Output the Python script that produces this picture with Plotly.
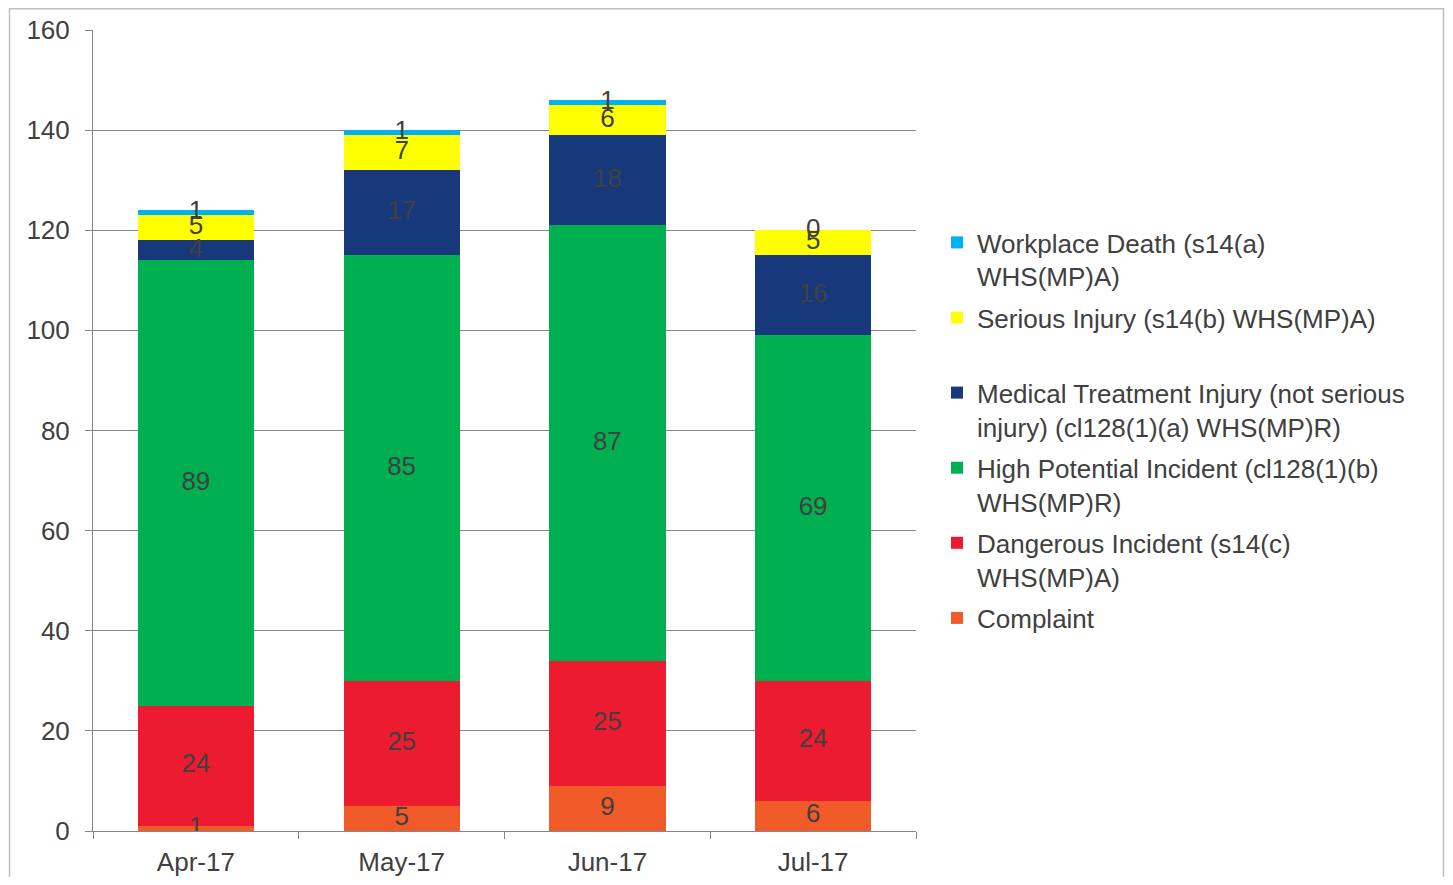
import plotly.graph_objects as go

categories = ["Apr-17", "May-17", "Jun-17", "Jul-17"]
complaint = [1, 5, 9, 6]
dangerous = [24, 25, 25, 24]
high_potential = [89, 85, 87, 69]
medical = [4, 17, 18, 16]
serious = [5, 7, 6, 5]
death = [1, 1, 1, 0]

series = [
    ("Complaint", complaint, "#F15A29"),
    ("Dangerous Incident (s14(c)<br>WHS(MP)A)", dangerous, "#ED1B2F"),
    ("High Potential Incident (cl128(1)(b)<br>WHS(MP)R)", high_potential, "#00B050"),
    ("Medical Treatment Injury (not serious<br>injury) (cl128(1)(a) WHS(MP)R)", medical, "#17397C"),
    ("Serious Injury (s14(b) WHS(MP)A)<br> ", serious, "#FFFF00"),
    ("Workplace Death (s14(a)<br>WHS(MP)A)", death, "#00B0F0"),
]

FONT = "Liberation Sans, Arial, sans-serif"
FS = 26
fig = go.Figure()
base = [0] * len(categories)
n = len(series)
for i, (name, vals, color) in enumerate(series):
    fig.add_trace(go.Bar(
        x=categories, y=vals, name=name, marker=dict(color=color, line=dict(width=0)),
        showlegend=True, legendgroup=name, legendrank=100 * (n - i),
    ))
    mids = [b + v / 2 for b, v in zip(base, vals)]
    fig.add_trace(go.Scatter(
        x=categories, y=mids, mode="text", text=[str(v) for v in vals],
        textfont=dict(size=FS, color="#404040", family=FONT),
        textposition="middle center", showlegend=False, hoverinfo="skip",
        legendgroup=name, legendrank=100 * (n - i),
    ))
    base = [b + v for b, v in zip(base, vals)]

# page has an 8px body margin; figure sized so the page fits the window exactly
OFF = 8
W, H = 1453 - 2 * OFF, 885 - 2 * OFF
L, T = 93 - OFF, 30 - OFF
pw, ph = 823, 801
R = W - L - pw
B = H - T - ph

def px2x(p):  # screen px -> paper x
    return (p - OFF - L) / pw

def px2y(p):  # screen px -> paper y
    return (T + ph - (p - OFF)) / ph

fig.add_shape(type="rect", xref="paper", yref="paper",
              x0=px2x(9.5), x1=px2x(1443.5), y0=px2y(900), y1=px2y(OFF + 0.75),
              line=dict(color="#BFBFBF", width=1.5), fillcolor="rgba(0,0,0,0)", layer="below")

fig.update_layout(
    width=W, height=H,
    margin=dict(l=L, r=R, t=T, b=B, autoexpand=False),
    barmode="stack", bargap=0.435,
    plot_bgcolor="white", paper_bgcolor="white",
    font=dict(family=FONT, size=FS, color="#404040"),
    xaxis=dict(showline=True, linecolor="#868686", linewidth=1, automargin=False,
               ticks="outside", tickson="boundaries", ticklen=7, tickcolor="#868686",
               ticklabelstandoff=8,
               tickfont=dict(size=FS, color="#404040")),
    yaxis=dict(range=[0, 160], dtick=20, showline=True, linecolor="#868686", linewidth=1,
               showgrid=True, gridcolor="#868686", gridwidth=1, automargin=False,
               ticks="outside", ticklen=7, tickcolor="#868686",
               ticklabelstandoff=10,
               tickfont=dict(size=FS, color="#404040"), zeroline=False),
    legend=dict(x=px2x(937), y=px2y(219), xanchor="left", yanchor="top",
                traceorder="grouped", valign="top", tracegroupgap=4.5,
                font=dict(size=FS, color="#404040", family=FONT),
                bgcolor="rgba(0,0,0,0)"),
    showlegend=True,
)

fig.write_html("out.html")
